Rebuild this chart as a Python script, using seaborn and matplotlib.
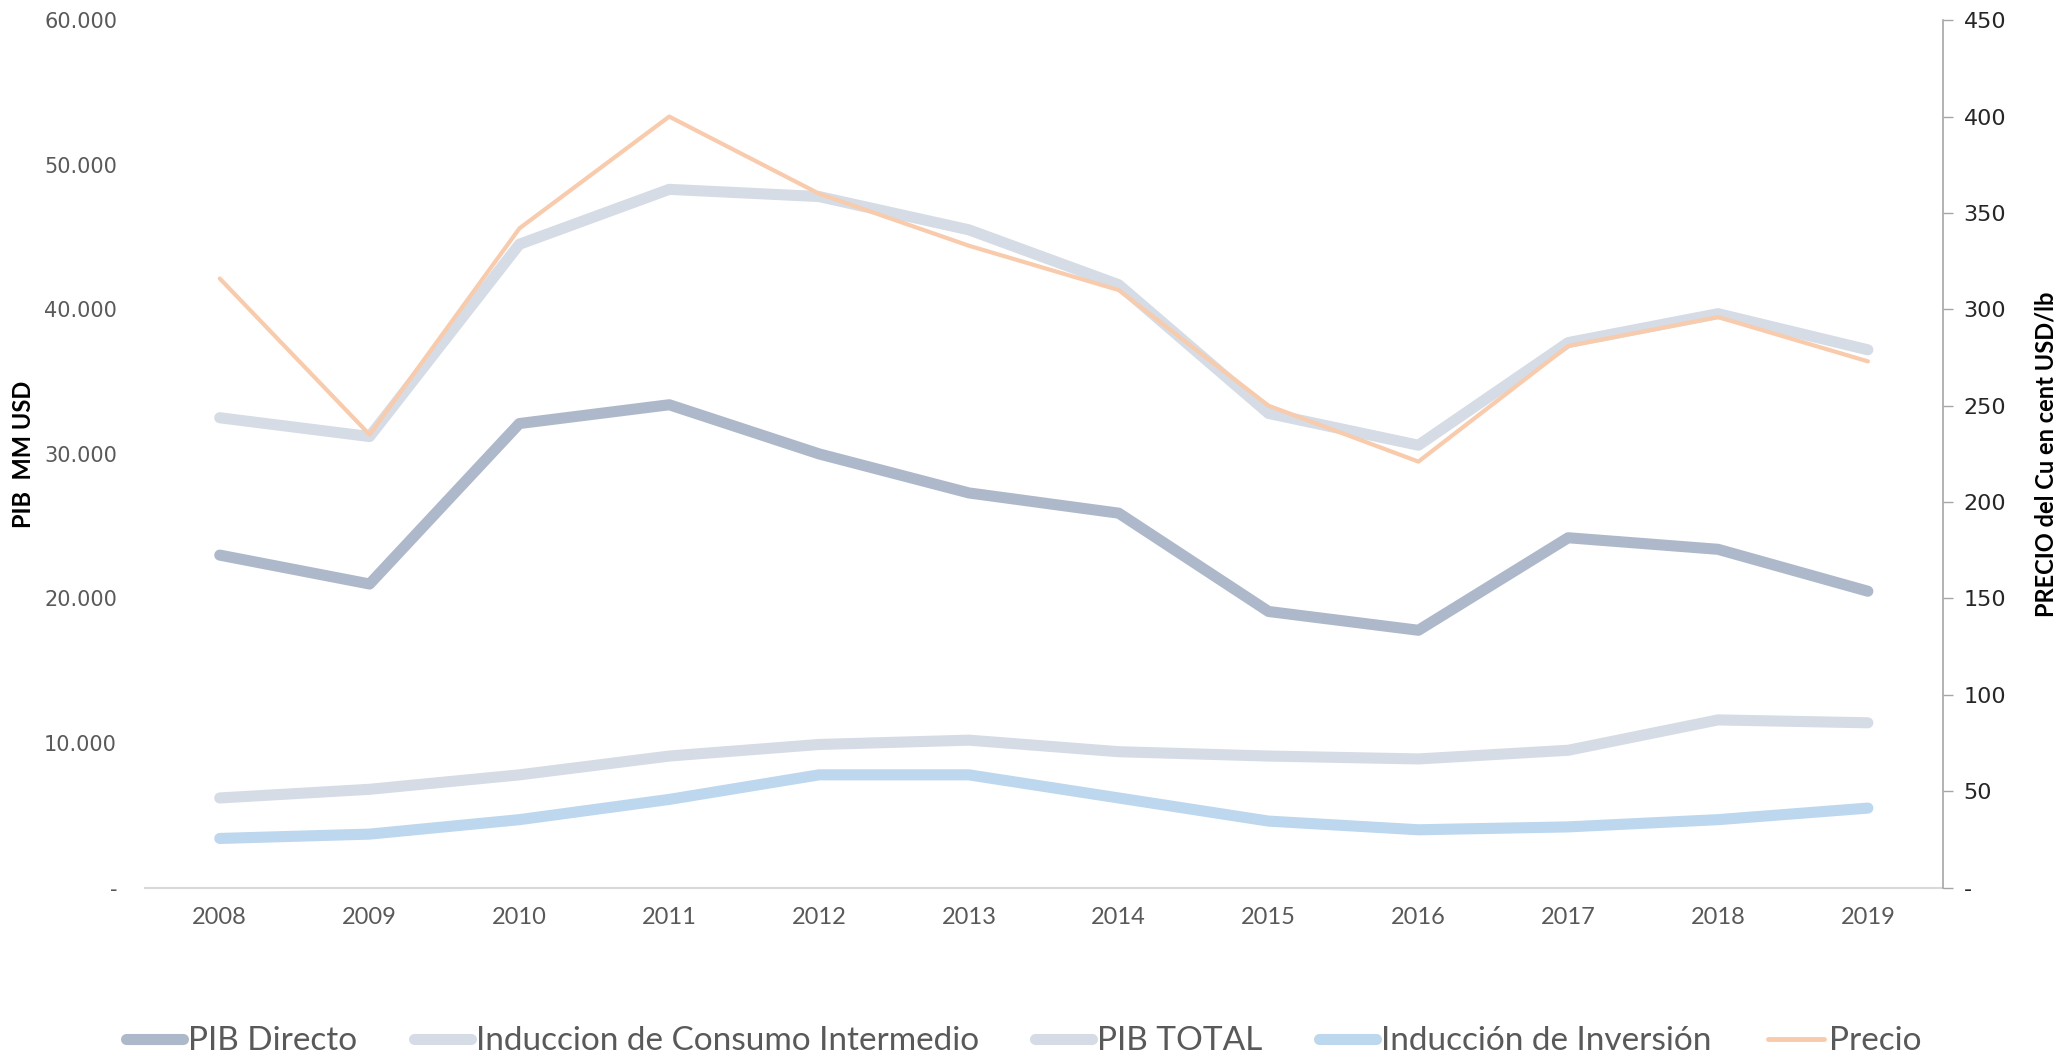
import pandas as pd
import seaborn as sns
import matplotlib.pyplot as plt
from matplotlib.ticker import FuncFormatter, MultipleLocator
from matplotlib.lines import Line2D

# Data
years = [2008, 2009, 2010, 2011, 2012, 2013, 2014, 2015, 2016, 2017, 2018, 2019]
pib_directo = [23000, 21000, 32100, 33400, 30000, 27300, 25900, 19100, 17800, 24200, 23400, 20500]
consumo_intermedio = [6200, 6800, 7800, 9100, 9900, 10200, 9400, 9100, 8900, 9500, 11600, 11400]
pib_total = [32500, 31200, 44500, 48300, 47800, 45500, 41700, 32800, 30600, 37700, 39700, 37200]
inversion = [3400, 3700, 4700, 6100, 7800, 7800, 6200, 4600, 4000, 4200, 4700, 5500]
precio = [316, 235, 342, 400, 360, 333, 310, 250, 221, 281, 296, 273]

series_names = ["PIB Directo", "Induccion de Consumo Intermedio", "PIB TOTAL",
                "Inducción de Inversión"]
series_vals = [pib_directo, consumo_intermedio, pib_total, inversion]
colors = ["#ADB9CA", "#D6DCE5", "#D6DCE5", "#BDD7EE"]
precio_color = "#F8CBAD"

sns.set_theme(style="white")
narrow = ["Lato", "DejaVu Sans"]
plt.rcParams["font.family"] = ["DejaVu Sans"]

df = pd.DataFrame({"year": [str(y) for y in years], "pos": range(len(years))})

fig = plt.figure(figsize=(20.69, 10.63), dpi=100)
ax = fig.add_axes([0.070, 0.165, 0.869, 0.816])
ax2 = ax.twinx()

for name, vals, c in zip(series_names, series_vals, colors):
    d = df.assign(v=vals)
    sns.lineplot(data=d, x="pos", y="v", ax=ax, color=c, linewidth=8,
                 solid_capstyle="round", legend=False)

d = df.assign(v=precio)
sns.lineplot(data=d, x="pos", y="v", ax=ax2, color=precio_color, linewidth=3,
             legend=False)

ax.set_xlim(-0.5, len(years) - 0.5)
ax.set_ylim(0, 60000)
ax2.set_ylim(0, 450)
ax.yaxis.set_major_locator(MultipleLocator(10000))
ax2.yaxis.set_major_locator(MultipleLocator(50))

def miles(v, pos):
    if v == 0:
        return "-"
    return f"{int(v):,}".replace(",", ".")

ax.yaxis.set_major_formatter(FuncFormatter(miles))
ax2.yaxis.set_major_formatter(FuncFormatter(lambda v, p: "-" if v == 0 else f"{int(v)}"))

ax.set_xticks(range(len(years)))
ax.set_xticklabels(df["year"], family=narrow, fontsize=17, color="#595959")
ax.tick_params(axis="x", length=0, pad=14)
ax.tick_params(axis="y", length=0, labelsize=15, labelcolor="#595959", pad=20)
ax2.tick_params(axis="y", length=7, width=1, color="#A6A6A6", direction="out",
                labelsize=16, labelcolor="#262626", pad=8)

for s in ["top", "left", "right"]:
    ax.spines[s].set_visible(False)
ax.spines["bottom"].set_color("#D9D9D9")
ax.spines["bottom"].set_linewidth(1.5)
for s in ["top", "left", "bottom"]:
    ax2.spines[s].set_visible(False)
ax2.spines["right"].set_color("#A6A6A6")
ax2.spines["right"].set_linewidth(1.2)
ax.grid(False)
ax2.grid(False)

ax.set_xlabel("")
ax.set_ylabel("PIB  MM USD", family=narrow, fontweight="bold", fontsize=17,
              color="black")
ax.yaxis.set_label_coords(-0.061, 0.5)
ax2.set_ylabel("PRECIO del Cu en cent USD/lb", family=narrow, fontweight="bold",
               fontsize=17, color="black")
ax2.yaxis.set_label_coords(1.051, 0.5)

handles = [Line2D([0], [0], color=c, linewidth=8, solid_capstyle="round")
           for c in colors]
handles.append(Line2D([0], [0], color=precio_color, linewidth=3.5))
labels = series_names + ["Precio"]
leg = fig.legend(handles, labels, loc="lower center", bbox_to_anchor=(0.495, -0.022),
                 ncol=5, frameon=False, handlelength=1.7, handletextpad=0.15,
                 columnspacing=1.7, prop={"family": narrow, "size": 24})
for t in leg.get_texts():
    t.set_color("#595959")

fig.savefig("out.png", dpi=100)
